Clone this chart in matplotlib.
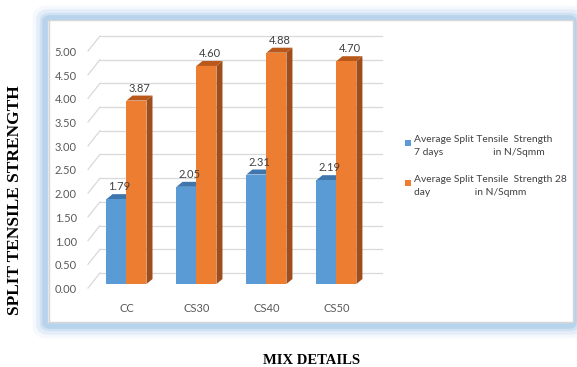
import matplotlib.pyplot as plt
import numpy as np
from matplotlib.patches import Polygon, FancyBboxPatch

# data
mixes = ['CC', 'CS30', 'CS40', 'CS50']
days7 = [1.79, 2.05, 2.31, 2.19]
days28 = [3.87, 4.60, 4.88, 4.70]
yticks = [0, 0.5, 1, 1.5, 2, 2.5, 3, 3.5, 4, 4.5, 5]

W, H = 577, 367
fig = plt.figure(figsize=(W / 100, H / 100), dpi=100)
fig.patch.set_facecolor('white')

# outer frame with blue glow
for pad, a in [(12, 0.10), (9, 0.18), (6, 0.30), (4, 0.45)]:
    fig.patches.append(FancyBboxPatch(((47 - pad / 2) / W, 1 - (324 + pad / 2) / H),
                                      (525 + pad) / W, (304 + pad) / H,
                                      boxstyle='round,pad=0,rounding_size=0.01',
                                      transform=fig.transFigure, facecolor='none',
                                      edgecolor='#9dc3e6', lw=pad, alpha=a, zorder=0))
fig.patches.append(FancyBboxPatch((49 / W, 1 - 322 / H), 524 / W, 302 / H,
                                  boxstyle='square,pad=0', transform=fig.transFigure,
                                  facecolor='white', edgecolor='#d6d6d6', lw=1, zorder=0.5))

left, right, top, bot = 88, 370, 47, 284
ax = fig.add_axes([left / W, 1 - bot / H, (right - left) / W, (bot - top) / H])
ax.set_zorder(2)
ax.set_xlim(-0.55, 3.48)
ax.set_ylim(0, 5)
ax.patch.set_alpha(0)
for s in ax.spines.values():
    s.set_visible(False)
ax.tick_params(length=0)

pxx = (right - left) / (3.48 + 0.55)
pxy = (bot - top) / 5.0
gdx, gdy = 12 / pxx, 11 / pxy   # wall depth in data units
bdx, bdy = 6 / pxx, 5 / pxy     # bar depth

# back wall / side wall gridlines
for t in yticks:
    ax.plot([-0.55, -0.55 + gdx], [t - 4 / pxy, t + gdy], color='#d9d9d9', lw=0.9,
            clip_on=False, zorder=1)
    ax.plot([-0.55 + gdx, 3.48 + gdx], [t + gdy, t + gdy], color='#d9d9d9', lw=0.9,
            clip_on=False, zorder=1)

x = np.arange(len(mixes))
w = 20 / pxx
series = [(days7, -w, '#5b9bd5', '#3f77ad', '#41719c'),
          (days28, 0, '#ed7d31', '#b9581a', '#9e4d1b')]
for vals, off, front, topc, side in series:
    for xi, v in zip(x, vals):
        x0 = xi + off
        ax.add_patch(Polygon([(x0 + w, 0), (x0 + w, v), (x0 + w + bdx, v + bdy), (x0 + w + bdx, bdy)],
                             closed=True, facecolor=side, edgecolor='none', zorder=2, clip_on=False))
        ax.add_patch(Polygon([(x0, v), (x0 + w, v), (x0 + w + bdx, v + bdy), (x0 + bdx, v + bdy)],
                             closed=True, facecolor=topc, edgecolor='none', zorder=2, clip_on=False))
        ax.bar(x0, v, width=w, align='edge', color=front, zorder=3)
        ax.text(x0 + w / 2 + bdx / 2, v + bdy + 2 / pxy, f'{v:.2f}', ha='center', va='bottom',
                fontsize=8, color='#404040', family='Lato', zorder=4)

ax.set_yticks(yticks)
ax.set_yticklabels([f'{t:.2f}' for t in yticks], fontsize=8, color='#595959', family='Lato',
                   va='top')
ax.tick_params(axis='y', pad=8)
ax.set_xticks(x)
ax.set_xticklabels(mixes, fontsize=8, color='#595959', family='Lato')
ax.tick_params(axis='x', pad=14)

# legend
fig.patches.append(plt.Rectangle((405 / W, 1 - 146 / H), 6 / W, 6 / H, transform=fig.transFigure,
                                 facecolor='#5b9bd5', edgecolor='none', zorder=3))
fig.patches.append(plt.Rectangle((405 / W, 1 - 186 / H), 6 / W, 6 / H, transform=fig.transFigure,
                                 facecolor='#ed7d31', edgecolor='none', zorder=3))
legend_texts = ['Average Split Tensile  Strength\n7 days                   in N/Sqmm',
                'Average Split Tensile  Strength 28\nday                 in N/Sqmm']
for txt, yy in zip(legend_texts, [135, 175]):
    fig.text(414 / W, 1 - yy / H, txt, fontsize=7.4, color='#404040', family='Lato',
             va='top', ha='left', linespacing=1.55)

fig.text(15 / W, 1 - 200 / H, 'SPLIT TENSILE STRENGTH', rotation=90, ha='center', va='center',
         fontsize=12.5, fontweight='bold', family='Liberation Serif')
fig.text(312 / W, 1 - 360 / H, 'MIX DETAILS', ha='center', va='center',
         fontsize=10.5, fontweight='bold', family='Liberation Serif')

fig.savefig('out.png', dpi=100)
